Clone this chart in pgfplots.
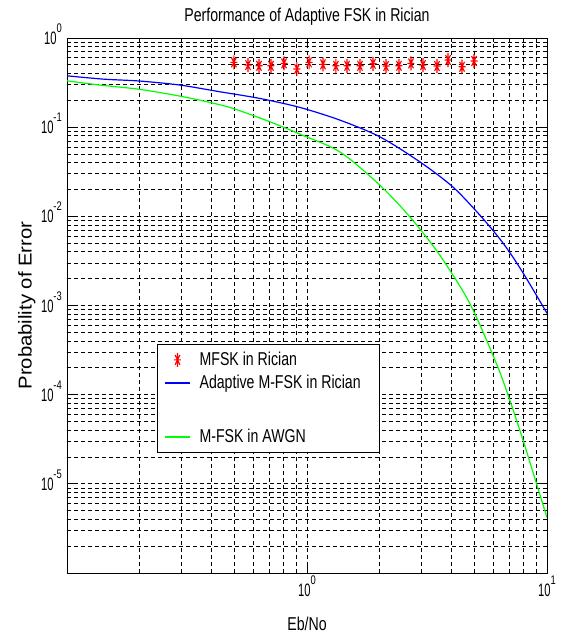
\documentclass[border=0pt]{standalone}
\usepackage{fontspec}
\usepackage{pgfplots}
\pgfplotsset{compat=1.18}
\newfontfamily\mfont[FakeStretch=0.76]{Liberation Sans}
\newfontfamily\tfont[FakeStretch=0.62]{Liberation Sans}
\newfontfamily\sfont[FakeStretch=0.75]{Liberation Sans}
\newfontfamily\yfont[FakeStretch=1.09]{Liberation Sans}
\newcommand{\tl}[1]{{\fontsize{18}{18}\tfont 10\raisebox{12pt}{\fontsize{12.5}{12.5}\sfont #1}}}
\definecolor{mgreen}{RGB}{0,255,0}
\definecolor{mblue}{RGB}{0,0,255}
\pgfdeclareplotmark{mstar}{%
  \pgfpathmoveto{\pgfqpoint{-\pgfplotmarksize}{0pt}}\pgfpathlineto{\pgfqpoint{\pgfplotmarksize}{0pt}}%
  \pgfpathmoveto{\pgfqpoint{0pt}{-\pgfplotmarksize}}\pgfpathlineto{\pgfqpoint{0pt}{\pgfplotmarksize}}%
  \pgfpathmoveto{\pgfqpoint{-0.707\pgfplotmarksize}{-0.707\pgfplotmarksize}}\pgfpathlineto{\pgfqpoint{0.707\pgfplotmarksize}{0.707\pgfplotmarksize}}%
  \pgfpathmoveto{\pgfqpoint{-0.707\pgfplotmarksize}{0.707\pgfplotmarksize}}\pgfpathlineto{\pgfqpoint{0.707\pgfplotmarksize}{-0.707\pgfplotmarksize}}%
  \pgfusepathqstroke}
\begin{document}
\begin{tikzpicture}
\begin{axis}[
  xmode=log, ymode=log,
  scale only axis, width=480pt, height=535pt,
  xmin=0.1, xmax=10, ymin=1e-6, ymax=1,
  axis line style={black, line width=0.8pt},
  xtick={1,10}, xticklabels={\tl{0},\tl{1}},
  minor xtick={0.2,0.3,0.4,0.5,0.6,0.7,0.8,0.9,2,3,4,5,6,7,8,9},
  ytick={1e-6,1e-5,1e-4,1e-3,1e-2,1e-1,1},
  yticklabels={{},\tl{-5},\tl{-4},\tl{-3},\tl{-2},\tl{-1},\tl{0}},
  minor ytick={2e-6,3e-6,4e-6,5e-6,6e-6,7e-6,8e-6,9e-6,
               2e-5,3e-5,4e-5,5e-5,6e-5,7e-5,8e-5,9e-5,
               2e-4,3e-4,4e-4,5e-4,6e-4,7e-4,8e-4,9e-4,
               2e-3,3e-3,4e-3,5e-3,6e-3,7e-3,8e-3,9e-3,
               2e-2,3e-2,4e-2,5e-2,6e-2,7e-2,8e-2,9e-2,
               0.2,0.3,0.4,0.5,0.6,0.7,0.8,0.9},
  grid=both,
  major grid style={black, line width=0.7pt, dash pattern=on 4pt off 3pt},
  minor grid style={black, line width=0.7pt, dash pattern=on 4pt off 3pt},
  tick align=inside, major tick length=8pt, minor tick length=4pt,
  tick style={black, line width=0.8pt},
  xticklabel style={anchor=base, inner sep=0pt, yshift=-23.7pt},
  yticklabel style={anchor=base east, inner sep=0pt, xshift=-5pt, yshift=-6.5pt},
  every axis title shift=0pt,
  title={Performance of Adaptive FSK in Rician},
  title style={at={(axis description cs:0.5,1)}, anchor=base, inner sep=0pt, yshift=16.3pt, font=\fontsize{18.6}{20}\mfont},
  xlabel={Eb/No},
  xlabel style={at={(axis description cs:0.5,0)}, anchor=base, inner sep=0pt, yshift=-57pt, font=\fontsize{18.6}{20}\mfont},
  ylabel={Probability of Error},
  ylabel style={at={(axis description cs:0,0.5)}, anchor=base, inner sep=0pt, yshift=35.3pt, font=\fontsize{18.6}{20}\yfont},
  legend image code/.code={\draw[mark repeat=2,mark phase=2,#1] plot coordinates {(0pt,0pt) (12.5pt,0pt) (25pt,0pt)};},
  legend cell align=left,
  legend style={at={(0.1875,0.428)}, anchor=north west, draw=black, line width=0.8pt, fill=white,
    inner xsep=7pt, inner ysep=4pt, column sep=9pt, nodes={inner sep=0pt, text depth=},
    font=\fontsize{18.6}{20}\mfont},
]
\addplot[only marks, mark=mstar, mark size=3.5pt, red, line width=1.1pt, mark options={yscale=2}] coordinates {
(0.496,0.533) (0.568,0.497) (0.631,0.488) (0.708,0.488) (0.802,0.520)
(0.908,0.449) (1.02,0.533) (1.166,0.506) (1.32,0.488) (1.468,0.488)
(1.663,0.488) (1.884,0.514) (2.134,0.485) (2.417,0.488) (2.712,0.520)
(3.043,0.497) (3.481,0.485) (3.87,0.566) (4.426,0.476) (4.966,0.552)
};
\addlegendentry{\raisebox{0pt}[17pt][6pt]{MFSK in Rician}}
\addplot[mblue, line width=1.2pt, smooth] coordinates {
(0.1,0.3767) (0.1413,0.3459) (0.2014,0.3289) (0.2958,0.2965) (0.4335,0.2495)
(0.6368,0.2099) (0.9354,0.1663) (1.372,0.1199) (2.014,0.0778) (2.958,0.0407)
(4.055,0.02133) (5.26,0.01026) (6.368,0.00556) (7.21,0.00349) (8.22,0.0020) (10,0.000818)
};
\addlegendentry{\raisebox{0pt}[17pt][6pt]{\makebox[173pt][l]{Adaptive M-FSK in Rician}}}
\addlegendimage{legend image code/.code={}}
\addlegendentry{\raisebox{0pt}[25pt][6pt]{}}
\addplot[mgreen, line width=1.2pt, smooth] coordinates {
(0.1,0.3311) (0.1372,0.2965) (0.2014,0.2655) (0.2958,0.2228) (0.3945,0.1892)
(0.492,0.1622) (0.7015,0.1148) (0.9354,0.0834) (1.372,0.0527) (2.014,0.0223)
(2.685,0.00982) (3.581,0.00365) (4.775,0.001045) (6.166,0.000221) (7.015,8.51e-5)
(7.962,3.04e-5) (9.057,9.9e-6) (10,4.18e-6)
};
\addlegendentry{\raisebox{0pt}[17pt][6pt]{M-FSK in AWGN}}
\end{axis}
\path[use as bounding box] (-67pt,-61pt) rectangle (495pt,573pt);
\end{tikzpicture}
\end{document}
